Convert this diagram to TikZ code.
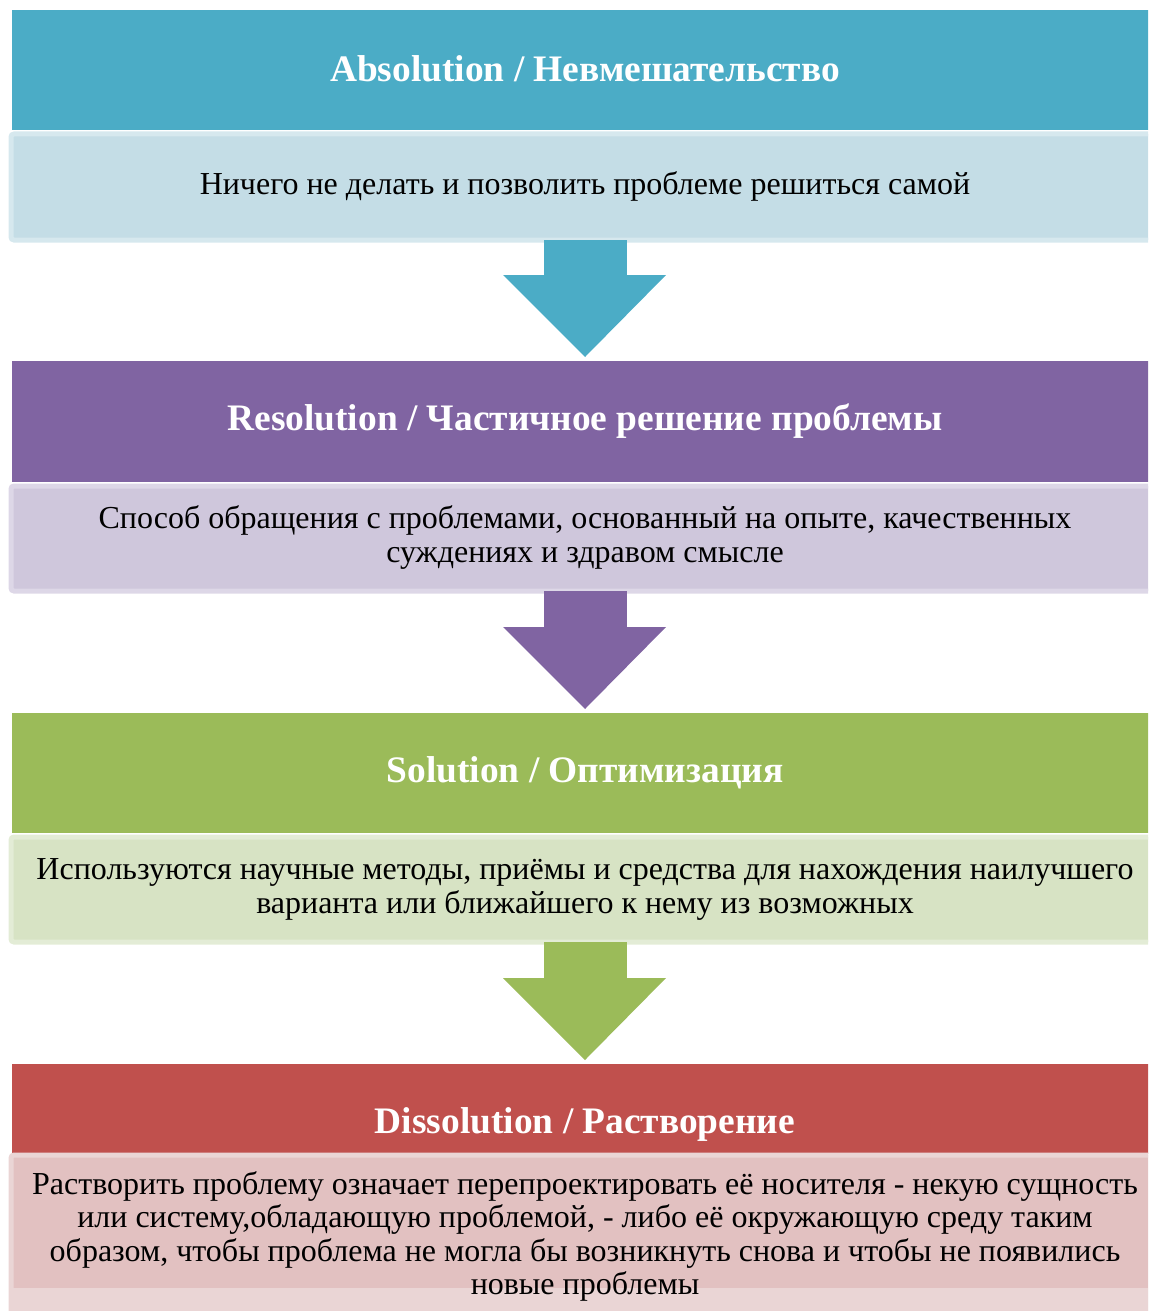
\documentclass[tikz,border=0pt]{standalone}
\usepackage{fontspec}
\setmainfont{Liberation Serif}
\usetikzlibrary{calc}
\definecolor{hA}{RGB}{75,172,198}
\definecolor{bA}{RGB}{196,221,230}
\definecolor{eA}{RGB}{214,232,238}
\definecolor{hB}{RGB}{128,100,162}
\definecolor{bB}{RGB}{207,199,220}
\definecolor{eB}{RGB}{221,215,231}
\definecolor{hC}{RGB}{155,187,89}
\definecolor{bC}{RGB}{215,227,196}
\definecolor{eC}{RGB}{227,236,214}
\definecolor{hD}{RGB}{192,80,77}
\definecolor{bD}{RGB}{226,193,193}
\definecolor{eD}{RGB}{234,213,213}
\tikzset{
  header/.style={rectangle, inner sep=0pt, minimum width=1146pt, anchor=north west},
  headtext/.style={text=white, inner sep=0pt, font=\fontsize{37.4}{42}\selectfont\bfseries},
  bodybox/.style={rectangle, inner sep=0pt, line width=5pt, rounded corners=3pt, minimum width=1153pt, anchor=north west},
  bodytext/.style={align=center, inner sep=0pt, font=\fontsize{32}{33.6}\selectfont, text=black},
}
\begin{document}
\begin{tikzpicture}[x=1pt,y=1pt]
\useasboundingbox (0,0) rectangle (1148,-1311);
\clip (0,0) rectangle (1148,-1311);
% headers
\node[header, fill=hA, minimum height=120pt] (h1) at (12,-10) {};
\node[header, fill=hB, minimum height=121pt] (h2) at (12,-361) {};
\node[header, fill=hC, minimum height=120pt] (h3) at (12,-713) {};
\node[header, fill=hD, minimum height=90pt] (h4) at (12,-1064) {};
\node[headtext] (ht1) at (585,-69) {Absolution / Невмешательство};
\node[headtext] (ht2) at (585,-421) {Resolution / Частичное решение проблемы};
\node[headtext] (ht3) at (585,-773) {Solution / Оптимизация};
\node[headtext] (ht4) at (585,-1124) {Dissolution / Растворение};
% bodies
\node[bodybox, fill=bA, draw=eA, minimum height=106pt] (b1) at (8.5,-131.5) {};
\node[bodybox, fill=bB, draw=eB, minimum height=105pt] (b2) at (8.5,-483.5) {};
\node[bodybox, fill=bC, draw=eC, minimum height=105pt] (b3) at (8.5,-834.5) {};
\node[bodybox, fill=bD, draw=eD, minimum height=164pt] (b4) at (8.5,-1152.5) {};
\fill[eD] (b4.west |- 0,-1288) rectangle (1148,-1320);
\node[bodytext] (t1) at (585,-186) {Ничего не делать и позволить проблеме решиться самой};
\node[bodytext] (t2) at (585,-537.5) {Способ обращения с проблемами, основанный на опыте, качественных\\суждениях и здравом смысле};
\node[bodytext] (t3) at (585,-889.5) {Используются научные методы, приёмы и средства для нахождения наилучшего\\варианта или ближайшего к нему из возможных};
\node[bodytext] (t4) at (585,-1236.5) {Растворить проблему означает перепроектировать её носителя - некую сущность\\или систему,обладающую проблемой, - либо её окружающую среду таким\\образом, чтобы проблема не могла бы возникнуть снова и чтобы не появились\\новые проблемы};
% arrows
\fill[hA] (543.5,-240) rectangle (626.5,-276);
\fill[hA] (503,-275) -- (666,-275) -- (585,-357) -- cycle;
\fill[hB] (543.5,-591) rectangle (626.5,-628);
\fill[hB] (503,-627) -- (666,-627) -- (585,-709) -- cycle;
\fill[hC] (543.5,-942) rectangle (626.5,-979);
\fill[hC] (503,-978) -- (666,-978) -- (585,-1060) -- cycle;
\end{tikzpicture}
\end{document}
